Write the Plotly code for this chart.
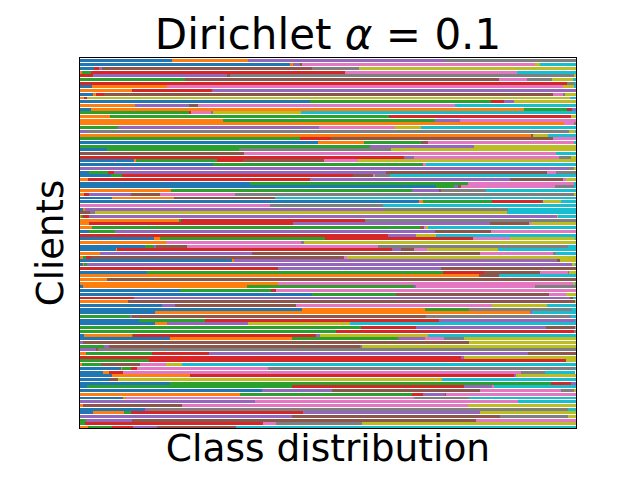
import plotly.graph_objects as go

# clients listed top row first; each list is the share of one class per client
client_ids = list(range(99, -1, -1))

class_0 = [.185, .425, .028, 0, 0, 0, 0, .024, 0, .028,
           0, .464, 0, .022, 0, 0, 0, 0, 0, 0,
           0, 0, .480, 0, .054, 0, 0, .109, .268, 0,
           .018, .062, 0, .343, .718, 0, 0, .065, .683, 0,
           .008, 0, 0, 0, 0, 0, .018, 0, .149, 0,
           .131, .073, 0, 0, .308, .008, 0, .135, 0, 0,
           0, .006, .202, .468, 0, 0, .165, .448, .151, 0,
           .119, .151, 0, 0, .008, .181, 0, 0, 0, 0,
           0, 0, 0, .083, .046, .065, .058, .181, .014, .367,
           0, .087, 0, 0, .133, .026, 0, 0, 0, 0]
class_1 = [.153, .004, 0, .004, 0, 0, 0, .151, .105, .004,
           .010, 0, .111, .873, 0, .060, .288, .976, 0, 0,
           .911, 0, .093, 0, 0, 0, 0, .004, 0, 0,
           0, 0, .016, 0, 0, .183, .008, .125, .008, 0,
           .002, 0, .004, .200, .018, .024, 0, 0, .012, .173,
           0, .002, .040, .008, .002, .002, 0, 0, .804, .054,
           .399, .331, 0, 0, 0, .097, 0, .248, .758, 0,
           0, .024, 0, 0, .097, .246, 0, 0, 0, .012,
           0, 0, .004, .002, .012, .157, 0, 0, 0, 0,
           .323, .006, 0, .006, 0, .063, 0, 0, 0, .016]
class_2 = [0, 0, 0, .018, 0, .212, 0, 0, 0, 0,
           0, .365, 0, .087, .220, .563, .427, 0, .077, 0,
           0, .444, .115, .585, .266, 0, 0, .163, .423, 0,
           .038, .022, 0, .440, .036, .486, 0, 0, .139, 0,
           0, 0, .002, .004, 0, .661, .052, 0, .333, 0,
           .020, 0, 0, .004, 0, .004, 0, .597, 0, 0,
           0, .337, .183, .169, 0, 0, 0, .089, 0, .101,
           .133, 0, .567, .516, .002, .214, 0, .048, 0, .133,
           0, .139, .038, .018, 0, 0, 0, .768, .413, 0,
           .347, 0, 0, 0, 0, .014, 0, .012, .010, .048]
class_3 = [0, 0, .012, .512, .026, 0, .982, 0, .161, .016,
           .004, .026, 0, .010, .004, .367, 0, 0, 0, 0,
           0, .062, 0, 0, 0, 0, .653, .052, 0, 0,
           .012, .466, .448, 0, 0, 0, .010, 0, .101, 0,
           0, 0, .012, .371, .411, 0, 0, .621, .298, 0,
           0, .554, 0, .010, 0, 0, .399, .083, 0, 0,
           0, 0, .010, 0, .109, 0, 0, 0, 0, 0,
           .472, 0, .111, .480, .369, 0, 0, 0, 0, .115,
           .770, .841, 0, .012, .028, .655, 0, .040, .347, 0,
           .022, 0, 0, 0, 0, .347, 0, 0, .359, .042]
class_4 = [.395, .016, .004, 0, .272, 0, 0, 0, .734, 0,
           0, .020, .109, .008, 0, 0, .052, 0, .405, .014,
           0, 0, 0, .210, 0, 0, .020, 0, 0, .984,
           .548, 0, .403, 0, .008, .056, .085, 0, 0, 0,
           .603, 0, .944, 0, .397, 0, .645, .056, 0, 0,
           .002, .018, .306, 0, .653, .978, .329, 0, 0, 0,
           0, .004, 0, 0, .879, 0, .026, 0, .002, .004,
           .274, .163, .262, 0, .008, .054, .006, .010, .034, .643,
           .004, 0, 0, 0, 0, .002, 0, .010, .058, .141,
           .044, 0, .353, 0, .004, .357, .427, .093, 0, .050]
class_5 = [0, .002, .423, 0, .004, .633, 0, 0, 0, .905,
           0, 0, .018, 0, 0, 0, 0, 0, 0, 0,
           .002, .448, .014, 0, 0, .331, 0, .163, 0, 0,
           .325, .042, .107, 0, .006, .002, .058, .204, .002, 0,
           0, .020, 0, 0, .081, .010, .113, 0, 0, 0,
           .063, .026, .460, .512, .004, 0, .272, .113, .040, .946,
           0, 0, 0, .308, .006, .901, .244, 0, 0, .593,
           0, 0, .058, 0, 0, 0, .778, .508, .002, .097,
           0, 0, .079, 0, 0, 0, .018, 0, 0, .298,
           .002, 0, 0, .200, 0, 0, .419, .693, 0, .159]
class_6 = [0, .470, 0, .347, 0, .056, 0, .798, 0, .022,
           0, 0, .518, 0, .042, 0, .232, .020, .153, 0,
           0, .046, .294, 0, 0, .629, .292, .069, .006, 0,
           .018, .002, .006, .214, .190, 0, .151, 0, 0, .383,
           0, 0, 0, 0, .002, .004, .171, 0, .075, .274,
           .385, .026, .149, .004, 0, 0, 0, .056, 0, 0,
           .595, .240, .605, .034, 0, 0, .395, 0, 0, 0,
           0, 0, .002, 0, 0, .038, 0, 0, 0, 0,
           0, 0, .052, .264, .804, 0, 0, 0, .002, .163,
           .262, .581, .530, .577, 0, 0, 0, .202, .026, 0]
class_7 = [.266, 0, .095, 0, .694, .050, .016, 0, 0, .002,
           0, 0, 0, 0, .002, 0, 0, .004, 0, .972,
           0, 0, 0, 0, .308, 0, .024, 0, 0, .012,
           .040, .030, 0, 0, .038, .091, .685, 0, 0, .228,
           .250, .010, 0, .425, 0, 0, 0, 0, 0, .004,
           .383, 0, .004, 0, 0, 0, 0, .002, 0, 0,
           0, .083, 0, 0, 0, 0, 0, .206, 0, .292,
           0, 0, 0, .004, 0, .042, 0, .002, .964, 0,
           0, 0, 0, .619, .048, 0, 0, 0, 0, .028,
           0, .111, 0, 0, .847, 0, .137, 0, .173, 0]
class_8 = [0, .010, .438, 0, .004, .044, 0, .024, 0, .022,
           .974, .125, 0, 0, .177, .010, 0, 0, .052, .012,
           .030, 0, 0, .206, .371, 0, .010, .440, 0, .004,
           0, 0, .020, 0, 0, 0, .004, 0, .036, 0,
           0, .830, .002, 0, .091, .002, 0, .040, .131, .548,
           0, .143, 0, .462, .032, .006, 0, .014, 0, 0,
           .004, 0, 0, .020, 0, .002, .111, 0, 0, 0,
           0, .206, 0, 0, .218, .224, .216, .431, 0, 0,
           .226, .020, .032, 0, 0, .121, .653, 0, 0, .002,
           0, 0, 0, .218, 0, .194, .016, 0, .431, 0]
class_9 = [0, .073, 0, .119, 0, .004, .002, .002, 0, 0,
           .012, 0, .244, 0, .554, 0, 0, 0, .313, .002,
           .056, 0, .004, 0, 0, .040, 0, 0, .302, 0,
           0, .375, 0, .004, .004, .181, 0, .607, .030, .389,
           .137, .139, .036, 0, 0, .298, 0, .282, .002, 0,
           .016, .157, .040, 0, 0, .002, 0, 0, .155, 0,
           .002, 0, 0, 0, .006, 0, .058, .010, .089, .010,
           .002, .456, 0, 0, .298, 0, 0, 0, 0, 0,
           0, 0, .794, .002, .060, 0, .270, 0, .165, 0,
           0, .216, .117, 0, .016, 0, 0, 0, 0, .684]

class_shares = [class_0, class_1, class_2, class_3, class_4,
                class_5, class_6, class_7, class_8, class_9]
tab10 = ['#1f77b4', '#ff7f0e', '#2ca02c', '#d62728', '#9467bd',
         '#8c564b', '#e377c2', '#7f7f7f', '#bcbd22', '#17becf']

fig = go.Figure()
for k, shares in enumerate(class_shares):
    fig.add_trace(go.Bar(
        x=shares, y=client_ids, orientation='h', width=0.8,
        marker=dict(color=tab10[k], line=dict(width=0)),
        name=f'class {k}', showlegend=False))

# the page body adds an 8px offset, so the figure is 8px smaller than the window
fig.update_layout(
    barmode='stack',
    width=632, height=472,
    margin=dict(l=72, r=64, t=50, b=52),
    paper_bgcolor='white', plot_bgcolor='white',
    font=dict(family='DejaVu Sans', color='black'),
    title=dict(text='Dirichlet <i>α</i> = 0.1', font=dict(size=42),
               x=0.5, xref='paper', xanchor='center',
               y=1, yref='paper', yanchor='bottom', pad=dict(b=9)),
    bargap=0,
)
fig.update_xaxes(range=[0, 1], showticklabels=False, ticks='', showgrid=False,
                 zeroline=False, showline=True, linecolor='black', linewidth=1, mirror=True,
                 title=dict(text='Class distribution', font=dict(size=37.5), standoff=6))
fig.update_yaxes(range=[-0.1, 99.8], showticklabels=False, ticks='', showgrid=False,
                 zeroline=False, showline=True, linecolor='black', linewidth=1, mirror=True,
                 title=dict(text='Clients', font=dict(size=37), standoff=4))

fig.write_html("out.html")
